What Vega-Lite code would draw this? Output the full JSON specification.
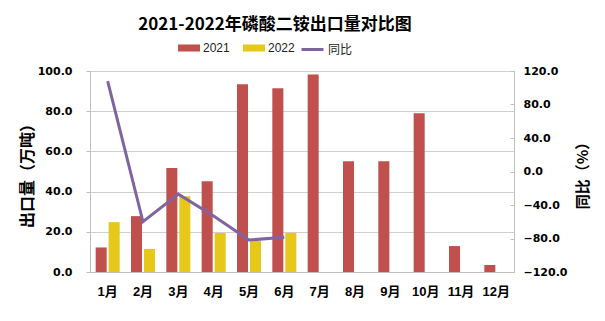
{
  "$schema": "https://vega.github.io/schema/vega-lite/v6.json",
  "width": 424,
  "height": 201,
  "autosize": {"type": "none"},
  "padding": {"left": 90, "top": 71, "right": 91, "bottom": 49},
  "background": "white",
  "title": {
    "text": "2021-2022年磷酸二铵出口量对比图",
    "font": "Noto Sans CJK SC",
    "fontSize": 17,
    "fontWeight": "bold",
    "color": "#000000",
    "anchor": "middle",
    "dx": -27,
    "offset": 3
  },
  "datasets": {
    "bars": [
      {"month": "1月", "year": "2021", "value": 12.2},
      {"month": "2月", "year": "2021", "value": 27.8},
      {"month": "3月", "year": "2021", "value": 51.7},
      {"month": "4月", "year": "2021", "value": 45.2},
      {"month": "5月", "year": "2021", "value": 93.4},
      {"month": "6月", "year": "2021", "value": 91.4},
      {"month": "7月", "year": "2021", "value": 98.3},
      {"month": "8月", "year": "2021", "value": 55.1},
      {"month": "9月", "year": "2021", "value": 55.1},
      {"month": "10月", "year": "2021", "value": 79.0},
      {"month": "11月", "year": "2021", "value": 12.9},
      {"month": "12月", "year": "2021", "value": 3.5},
      {"month": "1月", "year": "2022", "value": 24.8},
      {"month": "2月", "year": "2022", "value": 11.4},
      {"month": "3月", "year": "2022", "value": 37.7},
      {"month": "4月", "year": "2022", "value": 19.4},
      {"month": "5月", "year": "2022", "value": 15.6},
      {"month": "6月", "year": "2022", "value": 19.5}
    ],
    "yoy": [
      {"month": "1月", "series": "同比", "yoy": 108},
      {"month": "2月", "series": "同比", "yoy": -60},
      {"month": "3月", "series": "同比", "yoy": -27},
      {"month": "4月", "series": "同比", "yoy": -53},
      {"month": "5月", "series": "同比", "yoy": -81.8},
      {"month": "6月", "series": "同比", "yoy": -78.6}
    ]
  },
  "config": {
    "view": {"stroke": "#bfbfbf", "strokeWidth": 1},
    "axis": {
      "domainColor": "#bfbfbf",
      "tickColor": "#bfbfbf",
      "labelColor": "#000000",
      "titleColor": "#000000"
    }
  },
  "layer": [
    {
      "data": {"name": "bars"},
      "mark": {"type": "bar"},
      "encoding": {
        "x": {
          "field": "month",
          "type": "nominal",
          "sort": ["1月", "2月", "3月", "4月", "5月", "6月", "7月", "8月", "9月", "10月", "11月", "12月"],
          "scale": {"paddingInner": 0.32, "paddingOuter": 0.16},
          "axis": {
            "title": null,
            "labelAngle": 0,
            "ticks": false,
            "labelPadding": 13,
            "labelFont": "Liberation Sans, Noto Sans CJK SC",
            "labelFontSize": 13,
            "labelFontWeight": "bold"
          }
        },
        "xOffset": {
          "field": "year",
          "type": "nominal",
          "scale": {"domain": ["2021", "2022"], "paddingInner": 0.15}
        },
        "y": {
          "field": "value",
          "type": "quantitative",
          "scale": {"domain": [0, 100], "nice": false},
          "axis": {
            "title": "出口量（万吨）",
            "titleFont": "Noto Sans CJK SC",
            "titleFontSize": 16,
            "titleFontWeight": "bold",
            "titlePadding": 2,
            "values": [0, 20, 40, 60, 80, 100],
            "format": ".1f",
            "labelFont": "DejaVu Sans",
            "labelFontSize": 11,
            "labelFontWeight": "bold",
            "labelPadding": 14,
            "tickSize": 4,
            "grid": true,
            "gridColor": "#cfcfcf"
          }
        },
        "fill": {
          "field": "year",
          "type": "nominal",
          "scale": {"domain": ["2021", "2022"], "range": ["#C0504D", "#E6C81A"]},
          "legend": {
            "title": null,
            "orient": "none",
            "legendX": 88,
            "legendY": -34,
            "direction": "horizontal",
            "symbolType": "M-1,-0.32H1V0.32H-1Z",
            "symbolSize": 484,
            "symbolStrokeWidth": 0,
            "labelFont": "Liberation Sans",
            "labelFontSize": 12,
            "labelColor": "#222222",
            "labelOffset": 3,
            "columnPadding": 13
          }
        }
      }
    },
    {
      "data": {"name": "yoy"},
      "mark": {"type": "line", "strokeWidth": 3},
      "encoding": {
        "x": {
          "field": "month",
          "type": "nominal",
          "sort": ["1月", "2月", "3月", "4月", "5月", "6月", "7月", "8月", "9月", "10月", "11月", "12月"]
        },
        "y": {
          "field": "yoy",
          "type": "quantitative",
          "scale": {"domain": [-120, 120], "nice": false},
          "axis": {
            "orient": "right",
            "title": "同比（%）",
            "titleAngle": -90,
            "titleBaseline": "top",
            "titleFont": "Noto Sans CJK SC",
            "titleFontSize": 15,
            "titleFontWeight": "bold",
            "titlePadding": 8,
            "values": [-120, -80, -40, 0, 40, 80, 120],
            "format": ".1f",
            "labelFont": "DejaVu Sans",
            "labelFontSize": 11,
            "labelFontWeight": "bold",
            "labelPadding": 13,
            "tickSize": -4,
            "domain": true,
            "grid": false
          }
        },
        "stroke": {
          "field": "series",
          "type": "nominal",
          "scale": {"domain": ["同比"], "range": ["#8064A2"]},
          "legend": {
            "title": null,
            "orient": "none",
            "legendX": 210,
            "legendY": -34,
            "direction": "horizontal",
            "symbolType": "stroke",
            "symbolSize": 484,
            "symbolStrokeWidth": 3,
            "labelFont": "Noto Sans CJK SC",
            "labelFontSize": 12,
            "labelColor": "#222222",
            "labelOffset": 3
          }
        }
      }
    }
  ],
  "resolve": {"scale": {"y": "independent"}}
}
